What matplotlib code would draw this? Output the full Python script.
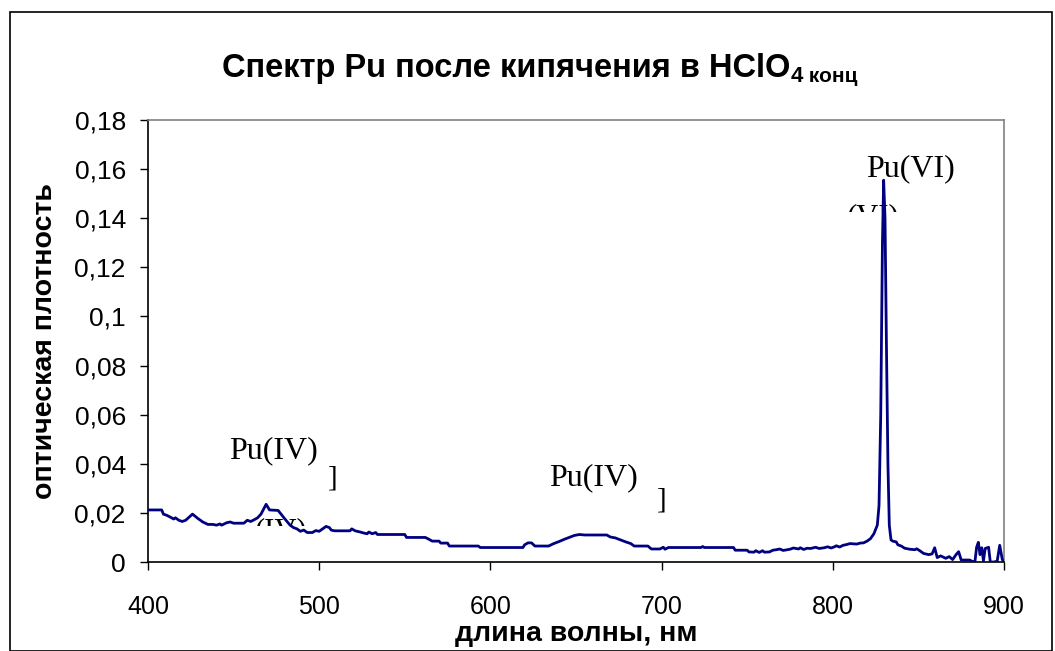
import matplotlib.pyplot as plt
from matplotlib.patches import Rectangle
from matplotlib.transforms import Bbox
from matplotlib.ticker import FuncFormatter

wavelength = [
    400, 408, 409, 411, 413, 415, 416, 418, 420, 422, 426, 429, 432, 435, 438,
    440, 442, 443, 446, 448, 450, 456, 458, 460, 462, 464, 466, 469, 471, 476,
    480, 483, 485, 487, 489, 491, 493, 496, 498, 500, 502, 504, 506, 507, 509,
    518, 519, 521, 524, 526, 528, 529, 531, 533, 534, 550, 551, 562, 564, 566,
    570, 571, 575, 576, 593, 594, 619, 620, 622, 624, 626, 634, 637, 640, 643,
    646, 649, 652, 655, 668, 670, 673, 676, 679, 682, 684, 692, 694, 699, 701,
    702, 704, 723, 724, 725, 742, 743, 750, 751, 754, 755, 757, 759, 760, 763,
    765, 767, 769, 771, 775, 777, 780, 781, 783, 785, 787, 790, 792, 795, 797,
    799, 801, 802, 804, 806, 808, 810, 814, 816, 818, 820, 822, 824, 826, 827,
    828, 829, 829.7, 830.5, 831.3, 832.2, 833, 834, 835, 837, 838, 840, 842,
    845, 848, 849, 851, 853, 856, 858, 859.5, 861, 863, 866, 868, 870, 872,
    873.5, 875, 880, 881, 883, 884, 885, 886, 887, 888, 889, 891, 892, 894,
    896, 897.5, 899, 900,
]
absorbance = [
    0.0212, 0.0212, 0.0195, 0.0190, 0.0183, 0.0175, 0.0180, 0.0170, 0.0165,
    0.0170, 0.0195, 0.0178, 0.0163, 0.0153, 0.0153, 0.0150, 0.0155, 0.0150,
    0.0160, 0.0163, 0.0158, 0.0158, 0.0170, 0.0165, 0.0172, 0.0180, 0.0195,
    0.0235, 0.0212, 0.0210, 0.0175, 0.0150, 0.0140, 0.0135, 0.0125, 0.0130,
    0.0120, 0.0120, 0.0128, 0.0125, 0.0135, 0.0145, 0.0140, 0.0130, 0.0127,
    0.0127, 0.0135, 0.0127, 0.0122, 0.0118, 0.0115, 0.0122, 0.0115, 0.0120,
    0.0112, 0.0112, 0.0100, 0.0100, 0.0093, 0.0085, 0.0085, 0.0077, 0.0077,
    0.0065, 0.0065, 0.0059, 0.0059, 0.0070, 0.0078, 0.0078, 0.0065, 0.0065,
    0.0075, 0.0083, 0.0092, 0.0100, 0.0108, 0.0112, 0.0110, 0.0110, 0.0102,
    0.0098, 0.0090, 0.0082, 0.0075, 0.0065, 0.0065, 0.0053, 0.0053, 0.0060,
    0.0052, 0.0059, 0.0059, 0.0063, 0.0059, 0.0059, 0.0048, 0.0048, 0.0041,
    0.0040, 0.0046, 0.0039, 0.0046, 0.0040, 0.0041, 0.0048, 0.0050, 0.0053,
    0.0047, 0.0052, 0.0057, 0.0053, 0.0058, 0.0051, 0.0056, 0.0055, 0.0060,
    0.0055, 0.0058, 0.0062, 0.0057, 0.0062, 0.0066, 0.0061, 0.0068, 0.0071,
    0.0075, 0.0073, 0.0077, 0.0078, 0.0085, 0.0095, 0.0115, 0.0150, 0.0230,
    0.0600, 0.1300, 0.1555, 0.1400, 0.0900, 0.0400, 0.0150, 0.0090, 0.0085,
    0.0082, 0.0070, 0.0065, 0.0056, 0.0052, 0.0050, 0.0054, 0.0045, 0.0035,
    0.0030, 0.0033, 0.0058, 0.0018, 0.0025, 0.0015, 0.0022, 0.0010, 0.0030,
    0.0042, 0.0008, 0.0008, 0.0004, 0.0000, 0.0060, 0.0080, 0.0030, 0.0058,
    0.0005, 0.0055, 0.0060, 0.0000, 0.0000, 0.0003, 0.0068, 0.0010, 0.0000,
]

peak_labels = ["Pu(IV)", "Pu(IV)", "Pu(VI)"]
peak_label_x = [473, 660, 845.5]
peak_label_y = [0.0422, 0.0314, 0.1571]

x_ticks = [400, 500, 600, 700, 800, 900]
y_ticks = [0, 0.02, 0.04, 0.06, 0.08, 0.1, 0.12, 0.14, 0.16, 0.18]

SANS = "Liberation Sans"
SERIF = "Liberation Serif"
W, H = 1055, 651

fig = plt.figure(figsize=(W / 100, H / 100), dpi=100)
ax = fig.add_axes([148 / W, 1 - 562 / H, (1004 - 148) / W, (562 - 120) / H])

ax.plot(wavelength, absorbance, color="#000080", linewidth=2.0, zorder=3)

ax.set_xlim(400, 900)
ax.set_ylim(0, 0.18)
ax.set_xticks(x_ticks)
ax.set_yticks(y_ticks)
ax.yaxis.set_major_formatter(FuncFormatter(lambda v, p: f"{v:g}".replace(".", ",")))
ax.tick_params(direction="out", length=6, width=1.0, labelsize=18)
ax.tick_params(axis="x", pad=18)
ax.tick_params(axis="y", pad=10, labelsize=19)
for lab in ax.get_xticklabels() + ax.get_yticklabels():
    lab.set_fontfamily(SANS)

for side in ("left", "bottom"):
    ax.spines[side].set_color("black")
    ax.spines[side].set_linewidth(1.2)
for side in ("top", "right"):
    ax.spines[side].set_color("#808080")
    ax.spines[side].set_linewidth(1.2)

ax.set_xlabel("длина волны, нм", fontsize=20.5, fontweight="bold", family=SANS, labelpad=1)
ax.set_ylabel("оптическая плотность", fontsize=20.5, fontweight="bold", family=SANS, labelpad=12)

for txt, lx, ly in zip(peak_labels, peak_label_x, peak_label_y):
    ax.text(lx, ly, txt, fontsize=23, family=SERIF, ha="center", va="baseline", zorder=4)

# leftover label fragments, only their upper edge shows
def clipped_text(x, y, s, x0, y0, x1, y1):
    t = ax.text(x, y, s, fontsize=22, family=SERIF, ha="center", va="top", zorder=2,
                transform=None)
    t.set_position((x, H - y))
    t.set_clip_box(Bbox([[x0, H - y1], [x1, H - y0]]))
    t.set_clip_on(True)

clipped_text(281, 517, "(IV)", 240, 518, 320, 526)
clipped_text(873, 203, "(VI)", 840, 204, 910, 212)
for bx, by in [(328, 466), (657, 487)]:
    fig.text(bx / W, 1 - by / H, "]", fontsize=21, family=SERIF, ha="left", va="top")

# title with subscripts
title_y = 1 - 77 / H
renderer = fig.canvas.get_renderer()
parts = [("Спектр Pu после кипячения в HClO", 23.5, 0), ("4", 16, -5), (" конц", 15, -5)]
texts = []
for s, size, dy in parts:
    texts.append(fig.text(0, title_y + dy / H, s, fontsize=size, fontweight="bold",
                          family=SANS, ha="left", va="baseline"))
widths = [t.get_window_extent(renderer).width for t in texts]
x = 540 - sum(widths) / 2
for t, w in zip(texts, widths):
    t.set_x(x / W)
    x += w

fig.add_artist(Rectangle((10 / W, 0), (1052 - 10) / W, 1 - 12 / H,
                         transform=fig.transFigure, fill=False,
                         edgecolor="black", linewidth=1.2))

fig.savefig("out.png", dpi=100)
